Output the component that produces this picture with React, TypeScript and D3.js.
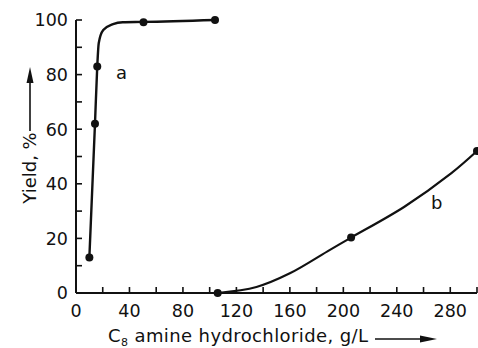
import React from "react";
import * as d3 from "d3";

const W = 478;
const H = 348;

// Series a: measured points and drawn curve
const aPointsX = [10, 14.2, 15.9, 50.5, 104];
const aPointsY = [13, 62, 83, 99.2, 100];
const aCurveX = [10, 14.2, 15.9, 17, 20.4, 27.7, 35, 50.5, 104];
const aCurveY = [13, 62, 83, 91.5, 96.3, 98.5, 99.2, 99.3, 100];

// Series b
const bPointsX = [106, 205.8, 300];
const bPointsY = [0, 20.3, 52];
const bCurveX = [106, 135, 160, 190, 205.8, 245.7, 280.6, 300];
const bCurveY = [0, 2.2, 7.2, 15.8, 20.3, 31.6, 43.8, 52];

const xTickLabels = [0, 40, 80, 120, 160, 200, 240, 280];
const xMinorTicks = d3.range(0, 301, 20);
const yTickLabels = [0, 20, 40, 60, 80, 100];
const yMinorTicks = d3.range(0, 101, 10);

const FONT = "'DejaVu Sans', sans-serif";
const INK = "#111";

export default function App() {
  const x = d3.scaleLinear().domain([0, 300]).range([76, 477]);
  const y = d3.scaleLinear().domain([0, 100]).range([293, 20]);

  const line = d3
    .line<[number, number]>()
    .x((d) => x(d[0]))
    .y((d) => y(d[1]))
    .curve(d3.curveMonotoneX);
  const smooth = d3
    .line<[number, number]>()
    .x((d) => x(d[0]))
    .y((d) => y(d[1]))
    .curve(d3.curveCatmullRom.alpha(0.5));

  const aCurve: [number, number][] = aCurveX.map((v, i) => [v, aCurveY[i]]);
  const bCurve: [number, number][] = bCurveX.map((v, i) => [v, bCurveY[i]]);

  return (
    <svg
      width={W}
      height={H}
      style={{ position: "absolute", left: 0, top: 0, background: "#fff" }}
      fontFamily={FONT}
    >
      <rect width={W} height={H} fill="#fff" />
      {/* axes */}
      <line x1={x(0)} x2={x(0)} y1={y(100)} y2={y(0)} stroke={INK} strokeWidth={2} />
      <line x1={x(0)} x2={x(300)} y1={y(0)} y2={y(0)} stroke={INK} strokeWidth={2} />
      {yMinorTicks.map((t) => (
        <line key={"yt" + t} x1={x(0)} x2={x(0) + 6} y1={y(t)} y2={y(t)} stroke={INK} strokeWidth={1.6} />
      ))}
      {xMinorTicks.map((t) => (
        <line key={"xt" + t} x1={x(t)} x2={x(t)} y1={y(0)} y2={y(0) - 6} stroke={INK} strokeWidth={1.6} />
      ))}
      {yTickLabels.map((t) => (
        <text key={"yl" + t} x={68} y={y(t)} dy="0.37em" textAnchor="end" fontSize={17.5} fill={INK}>
          {t}
        </text>
      ))}
      {xTickLabels.map((t) => (
        <text key={"xl" + t} x={x(t)} y={317} textAnchor="middle" fontSize={17.5} fill={INK}>
          {t}
        </text>
      ))}

      {/* curves */}
      <path d={line(aCurve) || ""} fill="none" stroke={INK} strokeWidth={2.4} />
      <path d={smooth(bCurve) || ""} fill="none" stroke={INK} strokeWidth={2.2} />
      {aPointsX.map((v, i) => (
        <circle key={"ap" + i} cx={x(v)} cy={y(aPointsY[i])} r={4} fill={INK} />
      ))}
      {bPointsX.map((v, i) => (
        <circle key={"bp" + i} cx={x(v)} cy={y(bPointsY[i])} r={4} fill={INK} />
      ))}

      {/* curve labels */}
      <text x={116} y={79} fontSize={18} fill={INK}>a</text>
      <text x={431} y={209} fontSize={18} fill={INK}>b</text>

      {/* x title */}
      <text x={108} y={342} fontSize={18} fill={INK} textLength={260} lengthAdjust="spacing">
        C<tspan fontSize={11} dy={4}>8</tspan>
        <tspan dy={-4}> amine hydrochloride, g/L</tspan>
      </text>
      <line x1={375} x2={426} y1={339} y2={339} stroke={INK} strokeWidth={1.6} />
      <path d="M 437 339 L 420 335.5 L 420 342.5 Z" fill={INK} />

      {/* y title */}
      <text
        transform="translate(36,168) rotate(-90)"
        textAnchor="middle"
        fontSize={18}
        fill={INK}
      >
        Yield, %
      </text>
      <line x1={30} x2={30} y1={131} y2={80} stroke={INK} strokeWidth={1.6} />
      <path d="M 30 67 L 26.5 83 L 33.5 83 Z" fill={INK} />
    </svg>
  );
}
